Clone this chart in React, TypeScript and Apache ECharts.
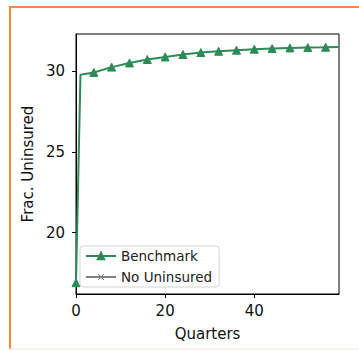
import React, { useEffect, useRef } from "react";
import * as echarts from "echarts";

const quarters = [0, 1, 4, 8, 12, 16, 20, 24, 28, 32, 36, 40, 44, 48, 52, 56, 59];
const benchmark = [16.9, 29.77, 29.92, 30.25, 30.51, 30.72, 30.88, 31.03, 31.15, 31.23, 31.3, 31.36, 31.4, 31.44, 31.46, 31.48, 31.5];
const unmarked = [1, 59];
const noUninsured: number[][] = [];
const xTicks = [0, 20, 40];
const yTicks = [20, 25, 30];

const FONT = "DejaVu Sans";

export default function App() {
  const ref = useRef<HTMLDivElement>(null);
  useEffect(() => {
    document.body.style.margin = "0";
    const chart = echarts.init(ref.current!, null, { renderer: "svg" });
    const benchData = quarters.map((q, i) =>
      unmarked.includes(q)
        ? { value: [q, benchmark[i]], symbol: "none" }
        : { value: [q, benchmark[i]] }
    );
    chart.setOption({
      animation: false,
      backgroundColor: "#ffffff",
      textStyle: { fontFamily: FONT },
      graphic: [
        { type: "line", shape: { x1: 9.5, y1: 7, x2: 359, y2: 7 }, style: { stroke: "#f5873f", lineWidth: 2 } },
        { type: "line", shape: { x1: 10, y1: 6, x2: 10, y2: 349 }, style: { stroke: "#f5873f", lineWidth: 2 } },
        { type: "line", shape: { x1: 10, y1: 349, x2: 359, y2: 349 }, style: { stroke: "#f9e3d6", lineWidth: 1 } },
      ],
      grid: {
        left: 76,
        top: 34,
        right: 20,
        bottom: 56,
        show: true,
        borderColor: "#000",
        borderWidth: 1,
        backgroundColor: "transparent",
      },
      legend: {
        left: 80,
        top: 246,
        orient: "vertical",
        itemWidth: 30,
        itemHeight: 8,
        itemGap: 7,
        padding: [3, 7, 3, 5],
        backgroundColor: "rgba(255,255,255,0.8)",
        borderColor: "#d4d4d4",
        borderWidth: 1,
        borderRadius: 3,
        textStyle: { fontFamily: FONT, fontSize: 13.5, color: "#222" },
        data: ["Benchmark", "No Uninsured"],
      },
      xAxis: {
        type: "value",
        min: 0,
        max: 59,
        name: "Quarters",
        nameLocation: "middle",
        nameGap: 32,
        nameTextStyle: { fontFamily: FONT, fontSize: 15, color: "#111" },
        axisLine: { show: true, lineStyle: { color: "#000", width: 1 } },
        axisTick: { show: true, length: 4, inside: false, customValues: xTicks, lineStyle: { color: "#000" } },
        axisLabel: { customValues: xTicks, fontFamily: FONT, fontSize: 15, color: "#111", margin: 9 },
        splitLine: { show: false },
      },
      yAxis: {
        type: "value",
        min: 16.2,
        max: 32.3,
        name: "Frac. Uninsured",
        nameLocation: "middle",
        nameGap: 39,
        nameTextStyle: { fontFamily: FONT, fontSize: 15, color: "#111" },
        axisLine: { show: true, lineStyle: { color: "#000", width: 1 } },
        axisTick: { show: true, length: 4, inside: false, customValues: yTicks, lineStyle: { color: "#000" } },
        axisLabel: { customValues: yTicks, fontFamily: FONT, fontSize: 15, color: "#111", margin: 11 },
        splitLine: { show: false },
      },
      series: [
        {
          name: "Benchmark",
          type: "line",
          data: benchData,
          symbol: "triangle",
          symbolSize: 8,
          showAllSymbol: true,
          lineStyle: { color: "#2e8b57", width: 2 },
          itemStyle: { color: "#2e8b57", borderColor: "#2e8b57", borderWidth: 1 },
          z: 3,
        },
        {
          name: "No Uninsured",
          type: "line",
          data: noUninsured,
          symbol: "path://M0,1L1,0L5,4L9,0L10,1L6,5L10,9L9,10L5,6L1,10L0,9L4,5Z",
          symbolSize: 7,
          lineStyle: { color: "#808080", width: 2 },
          itemStyle: { color: "#808080" },
        },
      ],
    });
    return () => chart.dispose();
  }, []);
  return <div ref={ref} style={{ width: 359, height: 350 }} />;
}
